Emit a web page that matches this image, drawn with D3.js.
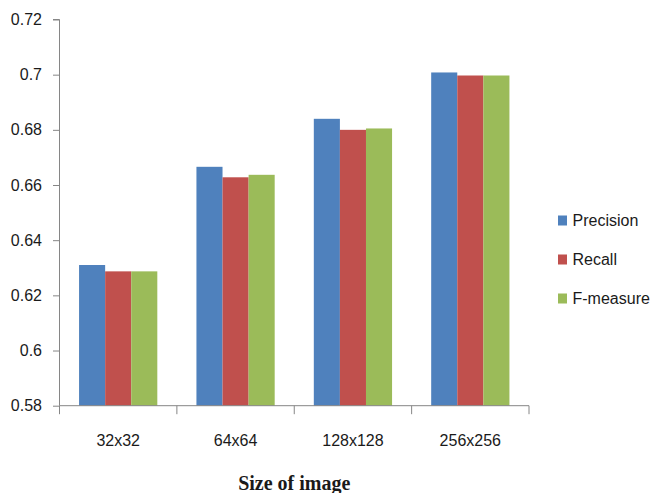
<!DOCTYPE html>
<html>
<head>
<meta charset="utf-8">
<script src="https://cdn.jsdelivr.net/npm/d3@7"></script>
<style>
  html, body { margin: 0; padding: 0; background: #fff; }
  svg { display: block; }
  text { font-family: "Liberation Sans", Arial, sans-serif; fill: #1a1a1a; }
</style>
</head>
<body>
<svg id="chart" width="650" height="493"></svg>
<script>
const categories = ["32x32", "64x64", "128x128", "256x256"];
const seriesNames = ["Precision", "Recall", "F-measure"];
const precision = [0.631, 0.6666, 0.684, 0.7008];
const recall = [0.6287, 0.6628, 0.680, 0.6997];
const fmeasure = [0.6287, 0.6637, 0.6805, 0.6997];
const yTicks = [0.58, 0.6, 0.62, 0.64, 0.66, 0.68, 0.7, 0.72];
const yTickLabels = ["0.58", "0.6", "0.62", "0.64", "0.66", "0.68", "0.7", "0.72"];
const colors = ["#4F81BD", "#C0504D", "#9BBB59"];
const xTitle = "Size of image";

const seriesValues = [precision, recall, fmeasure];

const svg = d3.select("#chart");
const mLeft = 59.5, mRight = 529, mTop = 19.5, mBottom = 405.7;

const x0 = d3.scaleBand().domain(categories).range([mLeft, mRight]).paddingInner(0).paddingOuter(0);
const x1 = d3.scaleBand().domain(seriesNames).range([0, x0.bandwidth()]).paddingInner(0).paddingOuter(0.75);
const y = d3.scaleLinear().domain([0.58, 0.72]).range([mBottom, mTop]);

// bars
const groups = svg.append("g").selectAll("g")
  .data(categories)
  .join("g")
  .attr("transform", d => `translate(${x0(d)},0)`);

groups.selectAll("rect")
  .data((c, i) => seriesNames.map((s, j) => ({ s, j, v: seriesValues[j][i] })))
  .join("rect")
  .attr("x", d => x1(d.s))
  .attr("width", x1.bandwidth())
  .attr("y", d => y(d.v))
  .attr("height", d => y(0.58) - y(d.v))
  .attr("fill", d => colors[d.j]);

// y axis
const yAxis = d3.axisLeft(y)
  .tickValues(yTicks)
  .tickFormat((d, i) => yTickLabels[i])
  .tickSize(6.5)
  .tickPadding(11);
const gy = svg.append("g").attr("transform", `translate(${mLeft},0)`).call(yAxis);
gy.select(".domain").attr("stroke", "#868686").attr("d", `M-6.5,${mTop}H0V${mBottom}`);
gy.selectAll(".tick line").attr("stroke", "#868686");
gy.selectAll(".tick text").attr("font-size", 16).attr("font-family", "Liberation Sans, Arial, sans-serif").attr("fill", "#1a1a1a");

// x axis
const gx = svg.append("g").attr("transform", `translate(0,${mBottom})`);
gx.append("line").attr("x1", mLeft).attr("x2", mRight).attr("y1", 0).attr("y2", 0).attr("stroke", "#868686");
const tickPos = categories.map(c => x0(c)).concat([mRight]);
gx.selectAll("line.t").data(tickPos).join("line")
  .attr("class", "t")
  .attr("x1", d => d).attr("x2", d => d)
  .attr("y1", 0).attr("y2", 8.5)
  .attr("stroke", "#868686");
gx.selectAll("text").data(categories).join("text")
  .attr("x", d => x0(d) + x0.bandwidth() / 2)
  .attr("y", 40.5)
  .attr("text-anchor", "middle")
  .attr("font-size", 16)
  .text(d => d);

// x title
svg.append("text")
  .attr("x", (mLeft + mRight) / 2)
  .attr("y", 490)
  .attr("text-anchor", "middle")
  .attr("font-weight", "bold")
  .attr("font-size", 20)
  .style("font-family", "'Liberation Serif', 'Times New Roman', serif")
  .text(xTitle);

// legend
const legendY = [220.5, 259.5, 298.5];
const lg = svg.append("g").selectAll("g").data(seriesNames).join("g")
  .attr("transform", (d, i) => `translate(558,${legendY[i]})`);
lg.append("rect").attr("x", 0).attr("y", -5).attr("width", 9).attr("height", 10)
  .attr("fill", (d, i) => colors[i]);
lg.append("text").attr("x", 14.5).attr("y", 5.5).attr("font-size", 16).text(d => d);
</script>
</body>
</html>
